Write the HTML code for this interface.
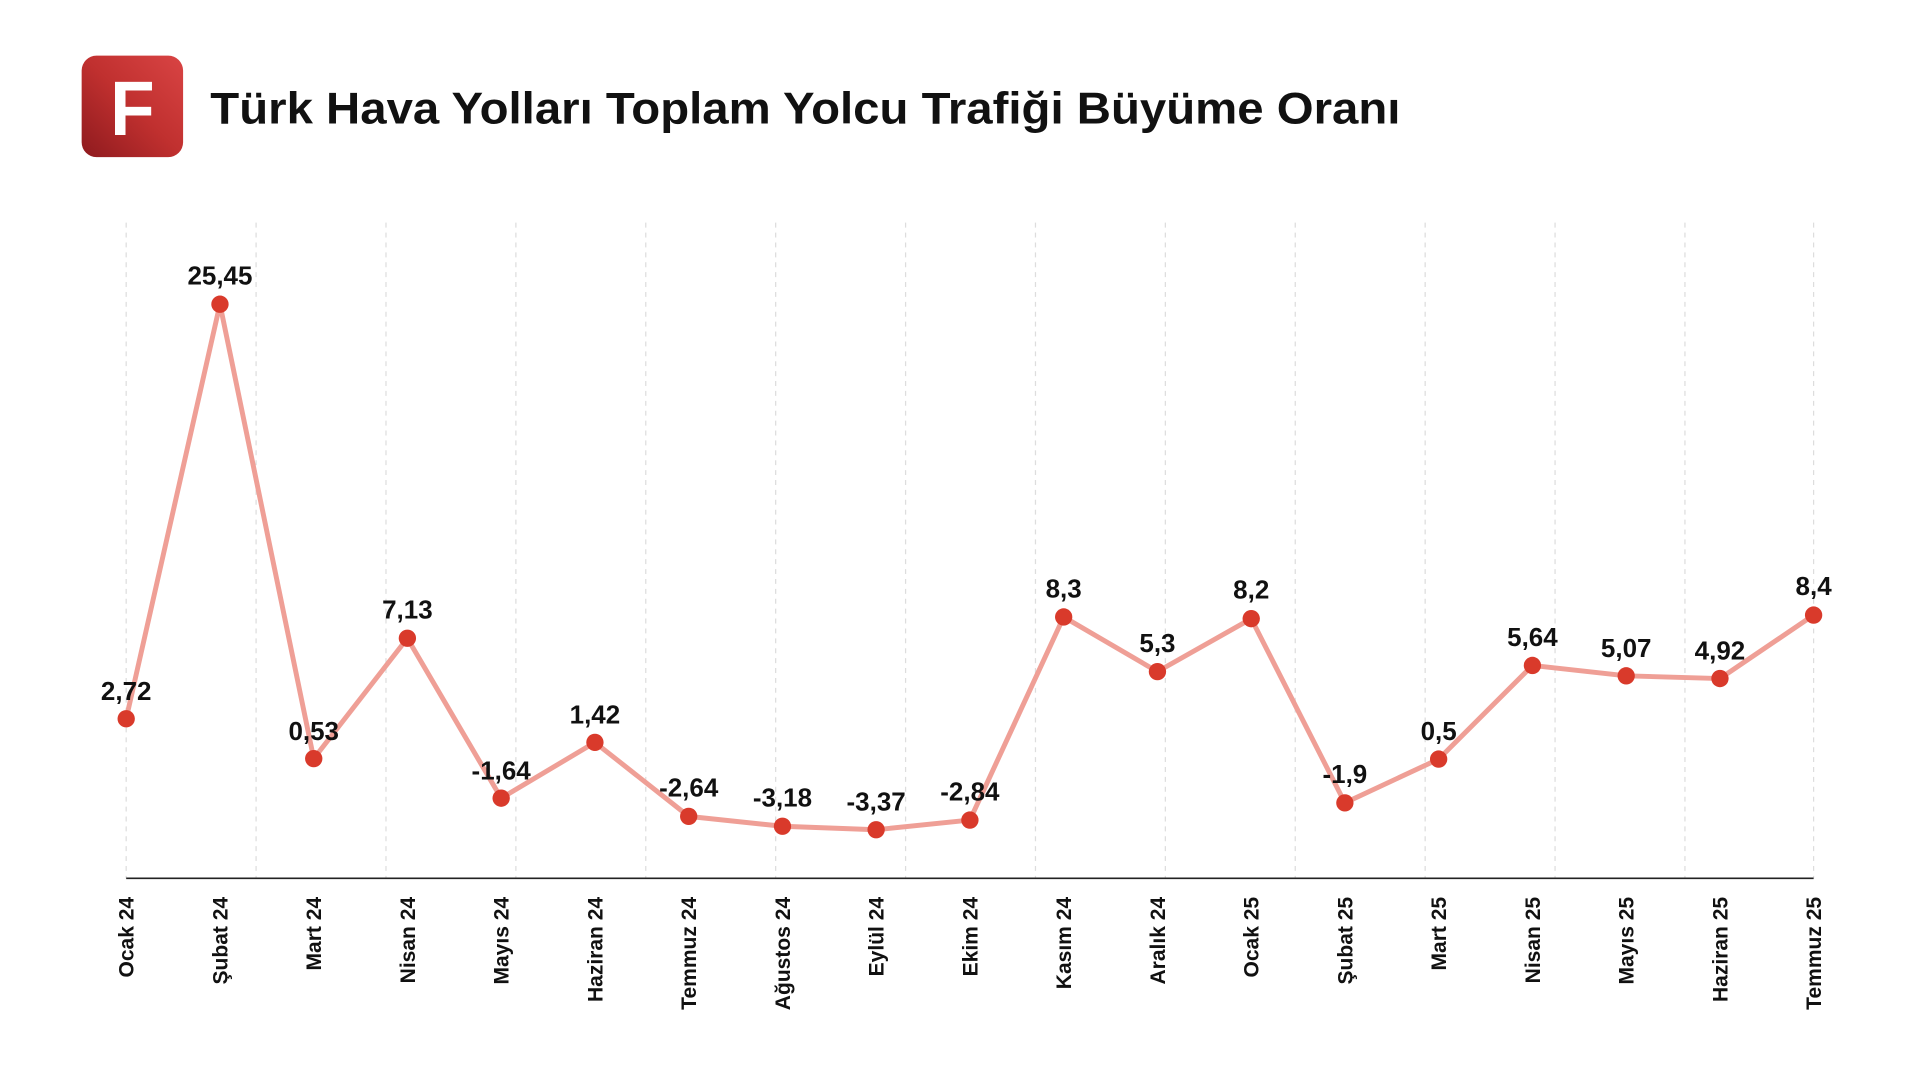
<!DOCTYPE html>
<html><head><meta charset="utf-8"><style>
html,body{margin:0;padding:0;background:#fff;width:1920px;height:1080px;overflow:hidden}
svg{display:block}
text{font-family:"Liberation Sans",sans-serif;font-weight:bold;fill:#111}
</style></head><body>
<svg width="1920" height="1080" viewBox="0 0 1552 873" xmlns="http://www.w3.org/2000/svg">
<defs><linearGradient id="lg" x1="0" y1="1" x2="1" y2="0"><stop offset="0" stop-color="#8e1a1e"/><stop offset="0.5" stop-color="#c0302f"/><stop offset="1" stop-color="#d94444"/></linearGradient></defs>
<rect x="66" y="45" width="82" height="82" rx="12" fill="url(#lg)"/>
<text x="107" y="109" text-anchor="middle" style="font-size:62px;fill:#fff" textLength="36" lengthAdjust="spacingAndGlyphs">F</text>
<text x="170" y="100" style="font-size:36px" textLength="962" lengthAdjust="spacingAndGlyphs">Türk Hava Yolları Toplam Yolcu Trafiği Büyüme Oranı</text>
<g stroke="#ddd" stroke-width="1" stroke-dasharray="4,4">
<line x1="102" y1="180" x2="102" y2="710"/><line x1="207" y1="180" x2="207" y2="710"/><line x1="312" y1="180" x2="312" y2="710"/><line x1="417" y1="180" x2="417" y2="710"/><line x1="522" y1="180" x2="522" y2="710"/><line x1="627" y1="180" x2="627" y2="710"/><line x1="732" y1="180" x2="732" y2="710"/><line x1="837" y1="180" x2="837" y2="710"/><line x1="942" y1="180" x2="942" y2="710"/><line x1="1047" y1="180" x2="1047" y2="710"/><line x1="1152" y1="180" x2="1152" y2="710"/><line x1="1257" y1="180" x2="1257" y2="710"/><line x1="1362" y1="180" x2="1362" y2="710"/><line x1="1466" y1="180" x2="1466" y2="710"/>
</g>
<line x1="102" y1="710" x2="1466" y2="710" stroke="#222" stroke-width="1.3"/>
<polyline fill="none" stroke="#ef9f96" stroke-width="4" stroke-linejoin="round" points="102,581 177.8,245.9 253.6,613.2 329.3,515.9 405.1,645.2 480.9,600.1 556.7,659.9 632.5,667.9 708.2,670.7 784,662.9 859.8,498.7 935.6,542.9 1011.4,500.1 1087.1,649 1162.9,613.6 1238.7,537.9 1314.5,546.3 1390.3,548.5 1466,497.2"/>
<g fill="#d93a2b">
<circle cx="102" cy="581" r="7"/><circle cx="177.8" cy="245.9" r="7"/><circle cx="253.6" cy="613.2" r="7"/><circle cx="329.3" cy="515.9" r="7"/><circle cx="405.1" cy="645.2" r="7"/><circle cx="480.9" cy="600.1" r="7"/><circle cx="556.7" cy="659.9" r="7"/><circle cx="632.5" cy="667.9" r="7"/><circle cx="708.2" cy="670.7" r="7"/><circle cx="784" cy="662.9" r="7"/><circle cx="859.8" cy="498.7" r="7"/><circle cx="935.6" cy="542.9" r="7"/><circle cx="1011.4" cy="500.1" r="7"/><circle cx="1087.1" cy="649" r="7"/><circle cx="1162.9" cy="613.6" r="7"/><circle cx="1238.7" cy="537.9" r="7"/><circle cx="1314.5" cy="546.3" r="7"/><circle cx="1390.3" cy="548.5" r="7"/><circle cx="1466" cy="497.2" r="7"/>
</g>
<g style="font-size:21px" text-anchor="middle">
<text x="102" y="566">2,72</text><text x="177.8" y="230">25,45</text><text x="253.6" y="598">0,53</text><text x="329.3" y="500">7,13</text><text x="405.1" y="630">-1,64</text><text x="480.9" y="585">1,42</text><text x="556.7" y="644">-2,64</text><text x="632.5" y="652">-3,18</text><text x="708.2" y="655">-3,37</text><text x="784" y="647">-2,84</text><text x="859.8" y="483">8,3</text><text x="935.6" y="527">5,3</text><text x="1011.4" y="484">8,2</text><text x="1087.1" y="633">-1,9</text><text x="1162.9" y="598">0,5</text><text x="1238.7" y="522">5,64</text><text x="1314.5" y="531">5,07</text><text x="1390.3" y="533">4,92</text><text x="1466" y="481">8,4</text>
</g>
<g style="font-size:17px" text-anchor="end">
<text transform="translate(108,725) rotate(-90)">Ocak 24</text>
<text transform="translate(183.8,725) rotate(-90)">Şubat 24</text>
<text transform="translate(259.6,725) rotate(-90)">Mart 24</text>
<text transform="translate(335.3,725) rotate(-90)">Nisan 24</text>
<text transform="translate(411.1,725) rotate(-90)">Mayıs 24</text>
<text transform="translate(486.9,725) rotate(-90)">Haziran 24</text>
<text transform="translate(562.7,725) rotate(-90)">Temmuz 24</text>
<text transform="translate(638.5,725) rotate(-90)">Ağustos 24</text>
<text transform="translate(714.2,725) rotate(-90)">Eylül 24</text>
<text transform="translate(790,725) rotate(-90)">Ekim 24</text>
<text transform="translate(865.8,725) rotate(-90)">Kasım 24</text>
<text transform="translate(941.6,725) rotate(-90)">Aralık 24</text>
<text transform="translate(1017.4,725) rotate(-90)">Ocak 25</text>
<text transform="translate(1093.1,725) rotate(-90)">Şubat 25</text>
<text transform="translate(1168.9,725) rotate(-90)">Mart 25</text>
<text transform="translate(1244.7,725) rotate(-90)">Nisan 25</text>
<text transform="translate(1320.5,725) rotate(-90)">Mayıs 25</text>
<text transform="translate(1396.3,725) rotate(-90)">Haziran 25</text>
<text transform="translate(1472,725) rotate(-90)">Temmuz 25</text>
</g>
</svg>
</body></html>
